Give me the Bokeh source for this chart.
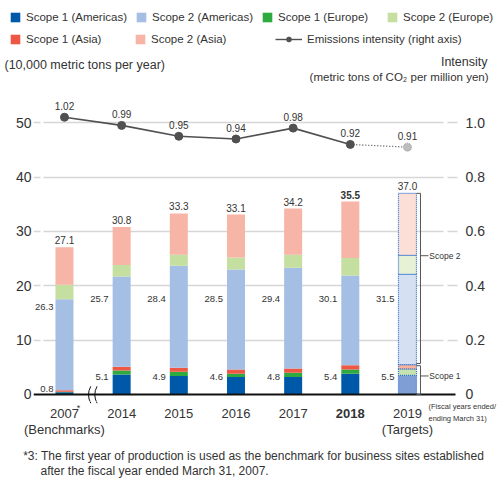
from bokeh.plotting import figure
from bokeh.models import (ColumnDataSource, Range1d, LinearAxis, FixedTicker,
                          Label, Legend, LegendItem)
from bokeh.embed import file_html
from bokeh.resources import INLINE
from bokeh.core.properties import value

# ---- data (10,000 metric tons of CO2 per year) ----
years = ["2007", "2014", "2015", "2016", "2017", "2018", "2019"]
year_notes = ["(Benchmarks)", "", "", "", "", "", "(Targets)"]
s1_americas = [0.4, 3.7, 3.4, 3.2, 3.2, 3.8, 3.5]
s1_europe = [0.1, 0.7, 0.8, 0.6, 0.8, 0.8, 1.2]
s1_asia = [0.3, 0.7, 0.7, 0.8, 0.8, 0.8, 0.8]
s2_americas = [16.7, 16.6, 18.8, 18.4, 18.5, 16.5, 16.6]
s2_europe = [2.7, 2.1, 2.0, 2.2, 2.4, 3.2, 3.5]
s2_asia = [6.9, 7.0, 7.6, 7.9, 8.5, 10.4, 11.4]
# emissions intensity (metric tons of CO2 per million yen)
intensity = [1.02, 0.99, 0.95, 0.94, 0.98, 0.92, 0.91]

series_names = ["Scope 1 (Americas)", "Scope 1 (Europe)", "Scope 1 (Asia)",
                "Scope 2 (Americas)", "Scope 2 (Europe)", "Scope 2 (Asia)"]
left_ticks = [0, 10, 20, 30, 40, 50]
right_ticks = [0, 0.2, 0.4, 0.6, 0.8, 1.0]

FONT = "Liberation Sans"
TXT = "#333333"
LINE = "#505050"
act_colors = ["#0058A9", "#2FAA3E", "#EE5744", "#A4BEE4", "#C4DF9F", "#F6B5A6"]
tgt_colors = ["#7F9ED6", "#C6E2AE", "#F7B39C", "#D5E0F3", "#E6F1D6", "#FCE0D7"]

n = len(years)
xs = list(range(n))
scope1 = [round(a + b + c, 1) for a, b, c in zip(s1_americas, s1_europe, s1_asia)]
scope2 = [round(a + b + c, 1) for a, b, c in zip(s2_americas, s2_europe, s2_asia)]
totals = [round(a + b, 1) for a, b in zip(scope1, scope2)]

# ---- shared geometry of the three stacked panels ----
W = 500
TOP_H, MAIN_H, BOT_H = 95, 306, 99
LEFT_B, RIGHT_B = 33, 38
X0, X1 = -0.542, 6.9625
PPU = (W - LEFT_B - RIGHT_B) / (X1 - X0)      # pixels per category step
Y0, Y1 = -1.288, 55.0
PPY = MAIN_H / (Y1 - Y0)                      # pixels per 10,000 t


def bare(fig):
    fig.outline_line_color = None
    fig.xgrid.visible = False
    fig.ygrid.visible = False
    return fig


# ======================= main chart =======================
p = figure(width=W, height=MAIN_H, output_backend="svg", toolbar_location=None,
           x_range=Range1d(X0, X1), y_range=Range1d(Y0, Y1),
           min_border_left=LEFT_B, min_border_right=RIGHT_B, min_border_top=0,
           min_border_bottom=0, x_axis_location=None, y_axis_location=None)
p.outline_line_color = None
p.xgrid.visible = False
p.ygrid.ticker = FixedTicker(ticks=left_ticks[1:])
p.ygrid.grid_line_color = "#d6d6d6"
p.ygrid.grid_line_width = 1.6
p.ygrid.grid_line_dash = "7 3 400 4 10 20"
p.extra_y_ranges = {"intensity": Range1d(Y0 / 50, Y1 / 50)}


def style_axis(ax, standoff):
    ax.axis_line_color = None
    ax.major_tick_line_color = None
    ax.minor_tick_line_color = None
    ax.major_tick_out = 0
    ax.major_tick_in = 0
    ax.minor_tick_out = 0
    ax.major_label_text_font = FONT
    ax.major_label_text_font_size = "14px"
    ax.major_label_text_color = TXT
    ax.major_label_standoff = standoff


yl = LinearAxis(ticker=FixedTicker(ticks=left_ticks))
style_axis(yl, 2)
p.add_layout(yl, "left")
yr = LinearAxis(y_range_name="intensity", ticker=FixedTicker(ticks=right_ticks))
yr.major_label_overrides = {0: "0", 0.2: "0.2", 0.4: "0.4", 0.6: "0.6", 0.8: "0.8", 1.0: "1.0"}
style_axis(yr, 3)
p.add_layout(yr, "right")

# stacked bars: measured years, then the target year with dotted outlines
keys = ["s1_am", "s1_eu", "s1_as", "s2_am", "s2_eu", "s2_as"]
cols = [s1_americas, s1_europe, s1_asia, s2_americas, s2_europe, s2_asia]
bar_w = 18 / PPU
act = ColumnDataSource({"x": xs[:-1], **{k: c[:-1] for k, c in zip(keys, cols)}})
tgt = ColumnDataSource({"x": xs[-1:], **{k: c[-1:] for k, c in zip(keys, cols)}})
p.vbar_stack(keys, x="x", width=bar_w, fill_color=act_colors, line_color=None, source=act)
p.vbar_stack(keys, x="x", width=bar_w, fill_color=tgt_colors,
             line_color="#2E6FD0", line_width=1.2, line_dash="1 1", source=tgt)

# baseline (ends where the gridlines end)
p.segment(x0=[X0], y0=[0], x1=[X0 + 422 / PPU], y1=[0], line_color="#111111", line_width=2)


def break_marks(fig):
    for bx in (0.45, 0.56):
        fig.quadratic(x0=[bx + 0.01], y0=[1.5], x1=[bx + 0.01], y1=[-1.6],
                      cx=[bx - 0.07], cy=[-0.05], line_color="#111111", line_width=1)


break_marks(p)

# scope brackets beside the target bar
bx = xs[-1] + 13 / PPU
tick = 4 / PPU
t1, tt = scope1[-1], totals[-1]
y_s1, y_s2 = t1 * 0.62, tt * 0.69
seg_x0 = [bx, bx, bx - tick, bx - tick, bx - tick, bx - tick, bx, bx]
seg_x1 = [bx, bx, bx, bx, bx, bx, bx + 2 * tick, bx + 2 * tick]
seg_y0 = [0, t1 + 0.2, 0, t1 - 0.2, t1 + 0.2, tt, y_s1, y_s2]
seg_y1 = [t1 - 0.2, tt, 0, t1 - 0.2, t1 + 0.2, tt, y_s1, y_s2]
p.segment(x0=seg_x0, y0=seg_y0, x1=seg_x1, y1=seg_y1, line_color="#555555", line_width=1)
p.text(x=[bx + 2.2 * tick] * 2, y=[y_s1, y_s2], text=["Scope 1", "Scope 2"],
       text_font=value(FONT), text_font_size="8.5px", text_color=TXT,
       text_align="left", text_baseline="middle")

# value labels
lab = ColumnDataSource(dict(
    x=xs, tot=totals, tot_txt=[f"{v:.1f}" for v in totals],
    s1_txt=[f"{v:.1f}" for v in scope1], s2_txt=[f"{v:.1f}" for v in scope2],
    s1_y=[1.05] + [3.3] * (n - 1), s2_y=[16.1] + [17.5] * (n - 1),
    dx=[-11] + [-13] * (n - 1),
    style=["bold" if y == "2018" else "normal" for y in years]))
common = dict(source=lab, text_font=value(FONT), text_color=TXT)
p.text(x="x", y="tot", text="tot_txt", text_align="center", text_baseline="bottom",
       y_offset=-3, text_font_size="10px", text_font_style="style", **common)
p.text(x="x", y="s2_y", text="s2_txt", text_align="right", text_baseline="middle",
       x_offset="dx", text_font_size="9.5px", **common)
p.text(x="x", y="s1_y", text="s1_txt", text_align="right", text_baseline="middle",
       x_offset="dx", text_font_size="9.5px", **common)

# intensity line on the right axis; the target segment is dotted
p.line(xs[:-1], intensity[:-1], y_range_name="intensity", line_color=LINE, line_width=1.6)
p.line(xs[-2:], intensity[-2:], y_range_name="intensity", line_color=LINE,
       line_width=1.3, line_dash="1 2")
p.scatter(xs[:-1], intensity[:-1], y_range_name="intensity", size=8,
          fill_color=LINE, line_color=LINE)
p.scatter(xs[-1:], intensity[-1:], y_range_name="intensity", size=8,
          fill_color="#BDBDBD", line_color="#9A9A9A", line_dash="1 1")
p.text(xs, intensity, text=[f"{v:.2f}" for v in intensity], y_range_name="intensity",
       text_align="center", text_baseline="bottom", y_offset=-7,
       text_font=value(FONT), text_font_size="10px", text_color=TXT)

# ======================= legend and axis titles =======================
top = bare(figure(width=W, height=TOP_H, output_backend="svg", toolbar_location=None,
                  x_range=Range1d(0, W), y_range=Range1d(0, TOP_H),
                  min_border=0, x_axis_location=None, y_axis_location=None))
off = dict(x=[-100], y=[-100])   # legend swatch renderers sit outside the view
swatches = [top.rect(width=1, height=1, fill_color=c, line_color=None, **off) for c in act_colors]
leg_line = top.line(line_color=LINE, line_width=1.4, **off)
leg_dot = top.scatter(size=7, fill_color=LINE, line_color=LINE, **off)

leg_kw = dict(orientation="horizontal", glyph_height=12, label_standoff=5, padding=0,
              margin=0, border_line_color=None, background_fill_alpha=0,
              label_text_font=FONT, label_text_font_size="11.5px",
              label_text_color=TXT, label_height=12, label_width=100, spacing=8)
row1 = [LegendItem(label=series_names[i], renderers=[swatches[i]]) for i in (0, 3, 1, 4)]
row2 = [LegendItem(label=series_names[i], renderers=[swatches[i]]) for i in (2, 5)]
top.add_layout(Legend(items=row1, location=(9, 72.5), glyph_width=12, **leg_kw))
top.add_layout(Legend(items=row2, location=(9, 50.5), glyph_width=12, **leg_kw))
top.add_layout(Legend(items=[LegendItem(label="Emissions intensity (right axis)",
                                        renderers=[leg_line, leg_dot])],
                      location=(275, 50.5), glyph_width=27, **leg_kw))


def note(fig, text, x, y, size="12px", align="left"):
    fig.add_layout(Label(x=x, y=y, x_units="screen", y_units="screen", text=text,
                         text_font=FONT, text_font_size=size, text_color=TXT,
                         text_align=align, text_baseline="middle"))


note(top, "(10,000 metric tons per year)", 4, 31, size="12.5px")
note(top, "Intensity", 487, 33.3, size="12.5px", align="right")
note(top, "(metric tons of CO\u2082 per million yen)", 488, 18.3, size="11.5px", align="right")

# ======================= year labels and footnote =======================
bot = bare(figure(width=W, height=BOT_H, output_backend="svg", toolbar_location=None,
                  x_range=Range1d(X0 - LEFT_B / PPU, X1 + RIGHT_B / PPU),
                  y_range=Range1d(Y0 - BOT_H / PPY, Y0),
                  min_border=0, x_axis_location=None, y_axis_location=None))
break_marks(bot)
yrs = ColumnDataSource(dict(x=xs, year=years, note=year_notes,
                            style=["bold" if y == "2018" else "normal" for y in years]))
bot.text(x="x", y=-19 / PPY, text="year", source=yrs, text_align="center",
         text_baseline="middle", text_font=value(FONT), text_font_size="13px",
         text_font_style="style", text_color=TXT)
bot.text(x="x", y=-35 / PPY, text="note", source=yrs, text_align="center",
         text_baseline="middle", text_font=value(FONT), text_font_size="13px",
         text_color=TXT)
bot.text(x=[xs[0]], y=[-14 / PPY], text=["*"], x_offset=14, text_align="center",
         text_baseline="middle", text_font=value(FONT), text_font_size="9px", text_color=TXT)
note(bot, "(Fiscal years ended/", 428, 94, size="7.5px")
note(bot, "ending March 31)", 428, 82, size="7.5px")
note(bot, "*3: The first year of production is used as the benchmark for business sites established",
     22.7, 44.3, size="12px")
note(bot, "after the fiscal year ended March 31, 2007.", 40, 29.3, size="12px")

# three independent roots stacked on the page
open("out.html", "w").write(file_html([top, p, bot], INLINE))
